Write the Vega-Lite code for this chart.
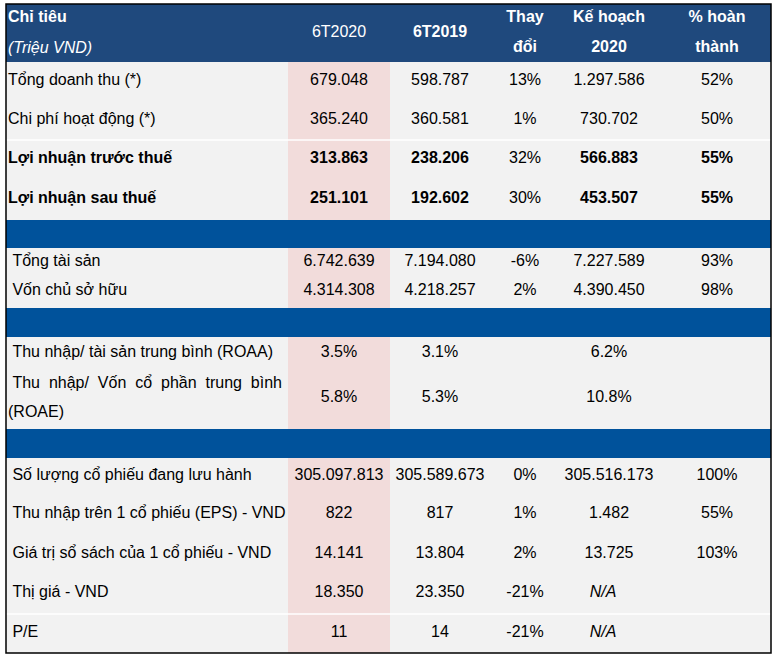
{
  "$schema": "https://vega.github.io/schema/vega-lite/v6.json",
  "width": 778,
  "height": 660,
  "padding": 0,
  "autosize": {"type": "none"},
  "background": "#ffffff",
  "config": {
    "view": {"stroke": null},
    "text": {"font": "Liberation Sans", "fontSize": 16, "baseline": "middle"}
  },
  "datasets": {
    "grid": [
      {"kind": "body", "c0": 0, "c1": 6, "r0": 1, "r1": 17},
      {"kind": "pink", "c0": 1, "c1": 2, "r0": 1, "r1": 17},
      {"kind": "header", "c0": 0, "c1": 6, "r0": 0, "r1": 1},
      {"kind": "band", "c0": 0, "c1": 6, "r0": 5, "r1": 6},
      {"kind": "band", "c0": 0, "c1": 6, "r0": 8, "r1": 9},
      {"kind": "band", "c0": 0, "c1": 6, "r0": 11, "r1": 12},
      {"kind": "line", "c0": 0, "c1": 6, "r0": 3, "r1": 3},
      {"kind": "line", "c0": 0, "c1": 6, "r0": 16, "r1": 16},
      {"kind": "frame", "c0": 0, "c1": 6, "r0": 0, "r1": 17}
    ],
    "cells": [
      {"row": 0, "col": 0, "type": "title", "text": "Chỉ tiêu"},
      {"row": 0, "col": 0, "type": "unit", "text": "(Triệu VND)"},
      {"row": 0, "col": 1, "type": "head", "text": "6T2020"},
      {"row": 0, "col": 2, "type": "headBold", "text": "6T2019"},
      {"row": 0, "col": 3, "type": "headStack", "text": "Thay\nđổi"},
      {"row": 0, "col": 4, "type": "headStack", "text": "Kế hoạch\n2020"},
      {"row": 0, "col": 5, "type": "headStack", "text": "% hoàn\nthành"},

      {"row": 1, "col": 0, "type": "label", "text": "Tổng doanh thu (*)"},
      {"row": 1, "col": 1, "type": "value", "text": "679.048"},
      {"row": 1, "col": 2, "type": "value", "text": "598.787"},
      {"row": 1, "col": 3, "type": "value", "text": "13%"},
      {"row": 1, "col": 4, "type": "value", "text": "1.297.586"},
      {"row": 1, "col": 5, "type": "value", "text": "52%"},

      {"row": 2, "col": 0, "type": "label", "text": "Chi phí hoạt động (*)"},
      {"row": 2, "col": 1, "type": "value", "text": "365.240"},
      {"row": 2, "col": 2, "type": "value", "text": "360.581"},
      {"row": 2, "col": 3, "type": "value", "text": "1%"},
      {"row": 2, "col": 4, "type": "value", "text": "730.702"},
      {"row": 2, "col": 5, "type": "value", "text": "50%"},

      {"row": 3, "col": 0, "type": "labelBold", "text": "Lợi nhuận trước thuế"},
      {"row": 3, "col": 1, "type": "valueBold", "text": "313.863"},
      {"row": 3, "col": 2, "type": "valueBold", "text": "238.206"},
      {"row": 3, "col": 3, "type": "value", "text": "32%"},
      {"row": 3, "col": 4, "type": "valueBold", "text": "566.883"},
      {"row": 3, "col": 5, "type": "valueBold", "text": "55%"},

      {"row": 4, "col": 0, "type": "labelBold", "text": "Lợi nhuận sau thuế"},
      {"row": 4, "col": 1, "type": "valueBold", "text": "251.101"},
      {"row": 4, "col": 2, "type": "valueBold", "text": "192.602"},
      {"row": 4, "col": 3, "type": "value", "text": "30%"},
      {"row": 4, "col": 4, "type": "valueBold", "text": "453.507"},
      {"row": 4, "col": 5, "type": "valueBold", "text": "55%"},

      {"row": 6, "col": 0, "type": "label", "text": "\u200b\u00a0Tổng tài sản"},
      {"row": 6, "col": 1, "type": "value", "text": "6.742.639"},
      {"row": 6, "col": 2, "type": "value", "text": "7.194.080"},
      {"row": 6, "col": 3, "type": "value", "text": "-6%"},
      {"row": 6, "col": 4, "type": "value", "text": "7.227.589"},
      {"row": 6, "col": 5, "type": "value", "text": "93%"},

      {"row": 7, "col": 0, "type": "label", "text": "\u200b\u00a0Vốn chủ sở hữu"},
      {"row": 7, "col": 1, "type": "value", "text": "4.314.308"},
      {"row": 7, "col": 2, "type": "value", "text": "4.218.257"},
      {"row": 7, "col": 3, "type": "value", "text": "2%"},
      {"row": 7, "col": 4, "type": "value", "text": "4.390.450"},
      {"row": 7, "col": 5, "type": "value", "text": "98%"},

      {"row": 9, "col": 0, "type": "label", "text": "\u200b\u00a0Thu nhập/ tài sản trung bình (ROAA)"},
      {"row": 9, "col": 1, "type": "value", "text": "3.5%"},
      {"row": 9, "col": 2, "type": "value", "text": "3.1%"},
      {"row": 9, "col": 4, "type": "value", "text": "6.2%"},

      {"row": 10, "col": 0, "type": "labelWrap", "text": "\u200b\u00a0Thu\u00a0\u00a0nhập/\u00a0\u00a0Vốn\u00a0\u00a0cổ\u00a0\u00a0phần\u00a0\u00a0trung\u00a0\u00a0bình\n(ROAE)"},
      {"row": 10, "col": 1, "type": "value", "text": "5.8%"},
      {"row": 10, "col": 2, "type": "value", "text": "5.3%"},
      {"row": 10, "col": 4, "type": "value", "text": "10.8%"},

      {"row": 12, "col": 0, "type": "label", "text": "\u200b\u00a0Số lượng cổ phiếu đang lưu hành"},
      {"row": 12, "col": 1, "type": "value", "text": "305.097.813"},
      {"row": 12, "col": 2, "type": "value", "text": "305.589.673"},
      {"row": 12, "col": 3, "type": "value", "text": "0%"},
      {"row": 12, "col": 4, "type": "value", "text": "305.516.173"},
      {"row": 12, "col": 5, "type": "value", "text": "100%"},

      {"row": 13, "col": 0, "type": "label", "text": "\u200b\u00a0Thu nhập trên 1 cổ phiếu (EPS) - VND"},
      {"row": 13, "col": 1, "type": "value", "text": "822"},
      {"row": 13, "col": 2, "type": "value", "text": "817"},
      {"row": 13, "col": 3, "type": "value", "text": "1%"},
      {"row": 13, "col": 4, "type": "value", "text": "1.482"},
      {"row": 13, "col": 5, "type": "value", "text": "55%"},

      {"row": 14, "col": 0, "type": "label", "text": "\u200b\u00a0Giá trị sổ sách của 1 cổ phiếu - VND"},
      {"row": 14, "col": 1, "type": "value", "text": "14.141"},
      {"row": 14, "col": 2, "type": "value", "text": "13.804"},
      {"row": 14, "col": 3, "type": "value", "text": "2%"},
      {"row": 14, "col": 4, "type": "value", "text": "13.725"},
      {"row": 14, "col": 5, "type": "value", "text": "103%"},

      {"row": 15, "col": 0, "type": "label", "text": "\u200b\u00a0Thị giá - VND"},
      {"row": 15, "col": 1, "type": "value", "text": "18.350"},
      {"row": 15, "col": 2, "type": "value", "text": "23.350"},
      {"row": 15, "col": 3, "type": "value", "text": "-21%"},
      {"row": 15, "col": 4, "type": "na", "text": "N/A"},

      {"row": 16, "col": 0, "type": "label", "text": "\u200b\u00a0P/E"},
      {"row": 16, "col": 1, "type": "value", "text": "11"},
      {"row": 16, "col": 2, "type": "value", "text": "14"},
      {"row": 16, "col": 3, "type": "value", "text": "-21%"},
      {"row": 16, "col": 4, "type": "na", "text": "N/A"}
    ]
  },
  "layer": [
    {
      "data": {"name": "grid"},
      "encoding": {
        "x": {"field": "c0", "type": "quantitative", "axis": null,
              "scale": {"domain": [0, 1, 2, 3, 4, 5, 6], "range": [6, 288, 390, 490, 560, 658, 771], "zero": false, "nice": false}},
        "x2": {"field": "c1"},
        "y": {"field": "r0", "type": "quantitative", "axis": null,
              "scale": {"domain": [0, 1, 2, 3, 4, 5, 6, 7, 8, 9, 10, 11, 12, 13, 14, 15, 16, 17],
                        "range": [4, 62, 100, 140, 179, 220, 248, 276, 308, 337, 368, 429, 458, 494, 533, 573, 614, 653],
                        "zero": false, "nice": false}}
      },
      "layer": [
        {
          "transform": [{"filter": "datum.kind !== 'line' && datum.kind !== 'frame'"}],
          "mark": {"type": "rect"},
          "encoding": {
            "y2": {"field": "r1"},
            "color": {"field": "kind", "type": "nominal", "legend": null,
                      "scale": {"domain": ["body", "pink", "header", "band"], "range": ["#F2F2F2", "#F2DCDB", "#1F497D", "#00529B"]}}
          }
        },
        {
          "transform": [{"filter": "datum.kind === 'line'"}],
          "mark": {"type": "rule", "color": "#ffffff", "strokeWidth": 1.5}
        },
        {
          "transform": [{"filter": "datum.kind === 'frame'"}],
          "mark": {"type": "rect", "filled": false, "color": "#000000", "strokeWidth": 1.5},
          "encoding": {"y2": {"field": "r1"}}
        }
      ]
    },
    {
      "data": {"name": "cells"},
      "encoding": {
        "x": {"field": "col", "type": "quantitative", "axis": null,
              "scale": {"domain": [0, 1, 2, 3, 4, 5], "range": [8, 339, 440, 525, 609, 717], "zero": false, "nice": false}},
        "y": {"field": "row", "type": "quantitative", "axis": null,
              "scale": {"domain": [0, 1, 2, 3, 4, 5, 6, 7, 8, 9, 10, 11, 12, 13, 14, 15, 16],
                        "range": [32, 80, 119, 158, 198, 234, 261, 290, 322, 352, 397, 443, 475, 513, 553, 592, 632],
                        "zero": false, "nice": false}},
        "text": {"field": "text"}
      },
      "layer": [
        {"transform": [{"filter": "datum.type === 'label'"}],
         "mark": {"type": "text", "align": "left", "color": "#000000"}},
        {"transform": [{"filter": "datum.type === 'labelWrap'"}],
         "mark": {"type": "text", "align": "left", "color": "#000000", "lineBreak": "\n", "lineHeight": 29, "dy": -14.5}},
        {"transform": [{"filter": "datum.type === 'labelBold'"}],
         "mark": {"type": "text", "align": "left", "color": "#000000", "fontWeight": "bold"}},
        {"transform": [{"filter": "datum.type === 'value'"}],
         "mark": {"type": "text", "align": "center", "color": "#000000"}},
        {"transform": [{"filter": "datum.type === 'valueBold'"}],
         "mark": {"type": "text", "align": "center", "color": "#000000", "fontWeight": "bold"}},
        {"transform": [{"filter": "datum.type === 'na'"}],
         "mark": {"type": "text", "align": "center", "color": "#000000", "fontStyle": "italic", "dx": -6}},
        {"transform": [{"filter": "datum.type === 'head'"}],
         "mark": {"type": "text", "align": "center", "color": "#ffffff"}},
        {"transform": [{"filter": "datum.type === 'headBold'"}],
         "mark": {"type": "text", "align": "center", "color": "#ffffff", "fontWeight": "bold"}},
        {"transform": [{"filter": "datum.type === 'headStack'"}],
         "mark": {"type": "text", "align": "center", "color": "#ffffff", "fontWeight": "bold", "lineBreak": "\n", "lineHeight": 30, "dy": -15}},
        {"transform": [{"filter": "datum.type === 'title'"}],
         "mark": {"type": "text", "align": "left", "color": "#ffffff", "fontWeight": "bold", "dy": -15}},
        {"transform": [{"filter": "datum.type === 'unit'"}],
         "mark": {"type": "text", "align": "left", "color": "#ffffff", "fontStyle": "italic", "dy": 16}}
      ]
    }
  ],
  "resolve": {"scale": {"x": "independent", "y": "independent"}}
}
